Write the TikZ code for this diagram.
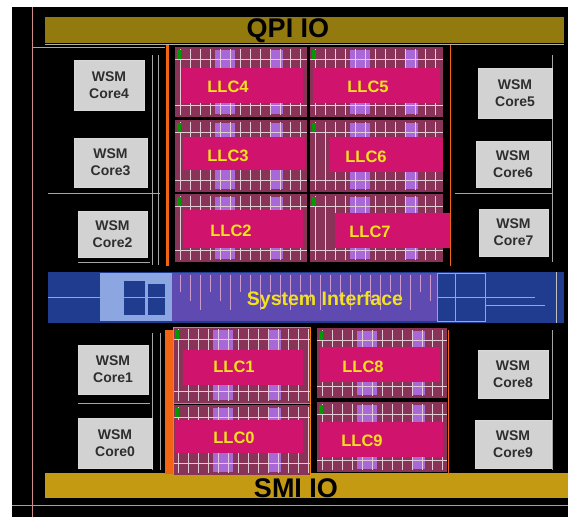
\documentclass[tikz,border=0pt]{standalone}
\usepackage{fontspec}
\setmainfont{Liberation Sans}
\definecolor{qpigold}{HTML}{927A0E}
\definecolor{smigold}{HTML}{C49A12}
\definecolor{coregray}{HTML}{D2D2D2}
\definecolor{coretext}{HTML}{2E2E2E}
\definecolor{llcbg}{HTML}{8A3358}
\definecolor{llcpink}{HTML}{D0146E}
\definecolor{llcyellow}{HTML}{F4E21C}
\definecolor{llcviolet}{HTML}{A868D8}
\definecolor{siblue}{HTML}{1F3C8E}
\definecolor{silight}{HTML}{8CA6E2}
\definecolor{sipurple}{HTML}{5E4AB0}
\definecolor{dieorange}{HTML}{F06414}
\definecolor{diepink}{HTML}{D08C8C}

\begin{document}
\begin{tikzpicture}[x=1pt,y=-1pt,
  core/.style={draw=gray!30, line width=1pt, fill=coregray, text=coretext,
    font=\bfseries\fontsize{14}{17}\selectfont, align=center, inner sep=0pt},
  llcname/.style={text=llcyellow, font=\bfseries\fontsize{16.5}{18}\selectfont, inner sep=0pt},
  ioname/.style={text=black, font=\bfseries\fontsize{27}{28}\selectfont, inner sep=0pt},
  gline/.style={draw=gray!70, line width=0.8pt},
  texw/.style={draw=white!75!llcbg, line width=1pt},
  texp/.style={fill=llcviolet}]
  \useasboundingbox (0,0) rectangle (568,517);
  % die background
  \fill[white] (0,0) rectangle (568,517);
  \fill[black] (12,7) rectangle (568,517);
  \draw[diepink, line width=0.8pt] (32,7) -- (32,517);
  \draw[diepink, line width=0.8pt] (12,505) -- (568,505);

  % IO strips
  \fill[qpigold] (45,17) rectangle (564,43);
  \draw[gray!60] (45,44) -- (564,44);
  \node[ioname] (qpi) at (288,31) {QPI IO};
  \fill[smigold] (45,473) rectangle (568,498);
  \node[ioname] (smi) at (296,488) {SMI IO};

  % LLC tiles
  \foreach \xa/\ya/\xb/\yb in {175/47/307/117, 310/47/443/117, 175/120/307/192,
      310/120/443/192, 175/194/307/262, 310/194/443/262, 173/327/310/403,
      317/328/447/398, 173/405/310/475, 317/402/447/472}{
    \fill[llcbg] (\xa,\ya) rectangle (\xb,\yb);
    \begin{scope}
      \clip (\xa,\ya) rectangle (\xb,\yb);
      \fill[texp] ({\xa+40},{\ya+3}) rectangle ({\xa+60},{\yb-3});
      \fill[texp] ({\xa+95},{\ya+3}) rectangle ({\xa+108},{\yb-3});
      \foreach \k in {0,...,13}
        \draw[texw] ({\xa+5+\k*10},{\ya+2}) -- ({\xa+5+\k*10},{\yb-2});
      \draw[texw] (\xa,{\ya+12}) -- (\xb,{\ya+12});
      \draw[texw] (\xa,{\yb-12}) -- (\xb,{\yb-12});
      \fill[green!60!black] ({\xa+2},{\ya+3}) rectangle ({\xa+6},{\ya+12});
    \end{scope}
  }
  % magenta bands
  \fill[llcpink] (182,68) rectangle (303,103);
  \fill[llcpink] (313,68) rectangle (440,103);
  \fill[llcpink] (183,137) rectangle (305,170);
  \fill[llcpink] (330,137) rectangle (443,172);
  \fill[llcpink] (183,210) rectangle (303,248);
  \fill[llcpink] (335,213) rectangle (450,248);
  \fill[llcpink] (183,350) rectangle (303,385);
  \fill[llcpink] (320,347) rectangle (440,382);
  \fill[llcpink] (175,420) rectangle (303,453);
  \fill[llcpink] (320,422) rectangle (443,457);
  \node[llcname] (llc4) at (228,87) {LLC4};
  \node[llcname] (llc5) at (368,87) {LLC5};
  \node[llcname] (llc3) at (228,156) {LLC3};
  \node[llcname] (llc6) at (366,157) {LLC6};
  \node[llcname] (llc2) at (231,231) {LLC2};
  \node[llcname] (llc7) at (370,232) {LLC7};
  \node[llcname] (llc1) at (234,367) {LLC1};
  \node[llcname] (llc8) at (363,367) {LLC8};
  \node[llcname] (llc0) at (234,438) {LLC0};
  \node[llcname] (llc9) at (362,441) {LLC9};
  \draw[orange, line width=0.8pt] (173,327) rectangle (310,475);
  \draw[orange, line width=0.8pt] (173,403) -- (310,403);

  % orange power rails
  \fill[dieorange] (166,45) rectangle (169,266);
  \fill[dieorange] (165,330) rectangle (173,474);
  \draw[dieorange, line width=0.6pt] (450,45) -- (450,266);
  \draw[dieorange, line width=0.6pt] (448,330) -- (448,474);

  % system interface
  \fill[siblue] (48,272) rectangle (564,323);
  \fill[silight] (100,273) rectangle (172,321);
  \fill[siblue] (124,281) rectangle (145,315);
  \fill[siblue] (148,284) rectangle (165,315);
  \fill[sipurple] (172,273) rectangle (437,321);
  \foreach \k in {0,...,25}
    \draw[violet!40!white, line width=0.9pt] ({180+\k*10},275) -- ({180+\k*10},{292+mod(\k,3)*9});
  \draw[silight, line width=0.8pt] (48,297) -- (172,297);
  \draw[silight, line width=0.8pt] (437,273) rectangle (485,321);
  \draw[silight, line width=0.8pt] (437,297) -- (535,297);
  \draw[silight, line width=0.8pt] (485,305) -- (545,305);
  \draw[silight, line width=0.8pt] (455,273) -- (455,321);
  \draw[gray!50] (556,272) -- (556,323);
  \node[text=llcyellow, font=\bfseries\fontsize{19.5}{22}\selectfont, inner sep=0pt]
    (si) at (325,300) {System Interface};

  % core side lines
  \draw[gline] (33,47) -- (165,47);
  \draw[gline] (48,193) -- (160,193);
  \draw[gline] (78,262) -- (150,262);
  \draw[gline] (78,403) -- (150,403);
  \draw[gline] (152,55) -- (152,265);
  \draw[gline] (158,55) -- (158,265);
  \draw[gline] (152,333) -- (152,470);
  \draw[gline] (160,333) -- (160,470);
  \draw[gline] (455,193) -- (552,193);
  \draw[gline] (552,55) -- (552,262);
  \draw[gline] (552,330) -- (552,470);

  % cores
  \node[core, minimum width=70, minimum height=50] (core4) at (109,85) {WSM\\Core4};
  \node[core, minimum width=73, minimum height=49] (core3) at (110.5,162.5) {WSM\\Core3};
  \node[core, minimum width=69, minimum height=46] (core2) at (112.5,234) {WSM\\Core2};
  \node[core, minimum width=70, minimum height=49] (core1) at (113,369.5) {WSM\\Core1};
  \node[core, minimum width=74, minimum height=50] (core0) at (115,443) {WSM\\Core0};
  \node[core, minimum width=74, minimum height=50] (core5) at (515,93) {WSM\\Core5};
  \node[core, minimum width=74, minimum height=46] (core6) at (513,164) {WSM\\Core6};
  \node[core, minimum width=69, minimum height=47] (core7) at (513.5,232.5) {WSM\\Core7};
  \node[core, minimum width=70, minimum height=48] (core8) at (513,374) {WSM\\Core8};
  \node[core, minimum width=76, minimum height=48] (core9) at (513,444) {WSM\\Core9};
\end{tikzpicture}
\end{document}
